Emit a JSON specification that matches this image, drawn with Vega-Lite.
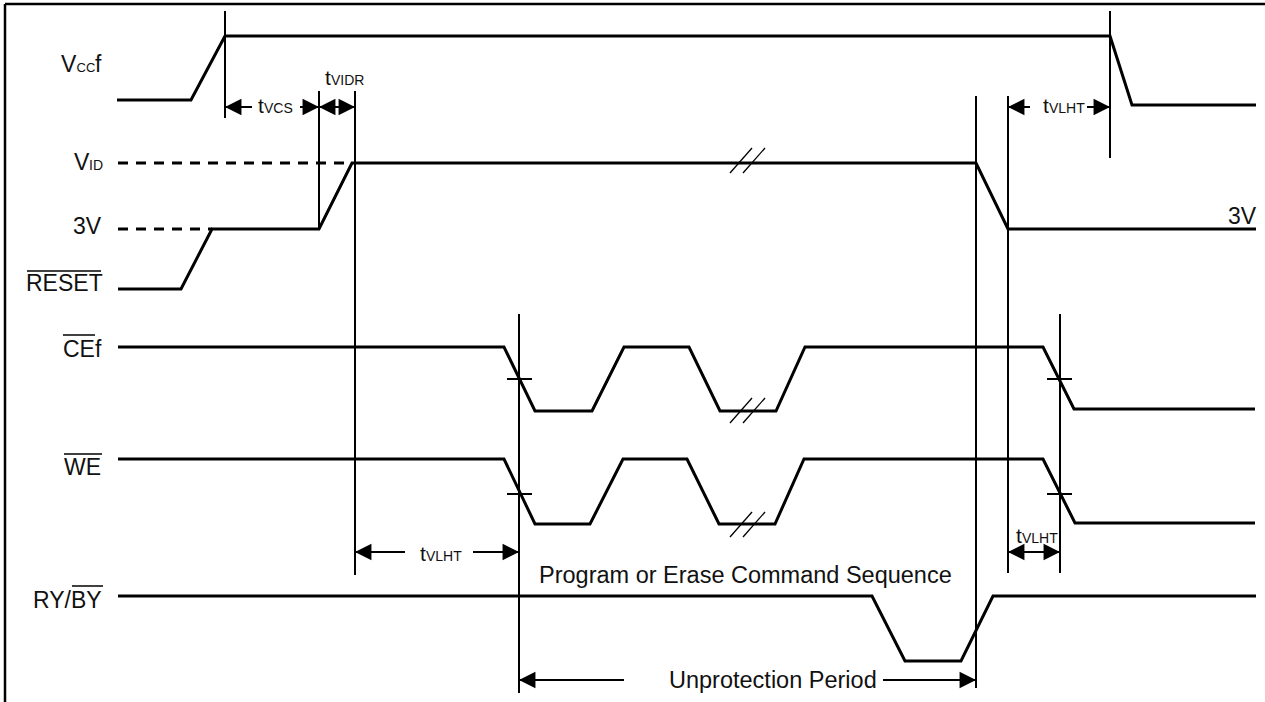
{
  "$schema": "https://vega.github.io/schema/vega-lite/v6.json",
  "width": 1265,
  "height": 702,
  "autosize": "none",
  "padding": 0,
  "background": "white",
  "config": {"view": {"stroke": null}},
  "datasets": {
    "sig": [
      {"s": "VCC", "o": 1, "x": 117, "y": 100}, {"s": "VCC", "o": 2, "x": 191, "y": 100}, {"s": "VCC", "o": 3, "x": 225, "y": 36}, {"s": "VCC", "o": 4, "x": 1110, "y": 36}, {"s": "VCC", "o": 5, "x": 1132, "y": 105}, {"s": "VCC", "o": 6, "x": 1256, "y": 105},
      {"s": "RST", "o": 1, "x": 118, "y": 289}, {"s": "RST", "o": 2, "x": 181, "y": 289}, {"s": "RST", "o": 3, "x": 212, "y": 229}, {"s": "RST", "o": 4, "x": 319, "y": 229}, {"s": "RST", "o": 5, "x": 352, "y": 163}, {"s": "RST", "o": 6, "x": 976, "y": 163}, {"s": "RST", "o": 7, "x": 1008, "y": 229}, {"s": "RST", "o": 8, "x": 1256, "y": 229},
      {"s": "CE", "o": 1, "x": 118, "y": 347}, {"s": "CE", "o": 2, "x": 504, "y": 347}, {"s": "CE", "o": 3, "x": 535, "y": 411}, {"s": "CE", "o": 4, "x": 592, "y": 411}, {"s": "CE", "o": 5, "x": 624, "y": 347}, {"s": "CE", "o": 6, "x": 689, "y": 347}, {"s": "CE", "o": 7, "x": 720, "y": 411}, {"s": "CE", "o": 8, "x": 776, "y": 411}, {"s": "CE", "o": 9, "x": 805, "y": 347}, {"s": "CE", "o": 10, "x": 1043, "y": 347}, {"s": "CE", "o": 11, "x": 1074, "y": 409}, {"s": "CE", "o": 12, "x": 1255, "y": 409},
      {"s": "WE", "o": 1, "x": 118, "y": 459}, {"s": "WE", "o": 2, "x": 504, "y": 459}, {"s": "WE", "o": 3, "x": 535, "y": 524}, {"s": "WE", "o": 4, "x": 590, "y": 524}, {"s": "WE", "o": 5, "x": 623, "y": 459}, {"s": "WE", "o": 6, "x": 687, "y": 459}, {"s": "WE", "o": 7, "x": 719, "y": 524}, {"s": "WE", "o": 8, "x": 775, "y": 524}, {"s": "WE", "o": 9, "x": 804, "y": 459}, {"s": "WE", "o": 10, "x": 1043, "y": 459}, {"s": "WE", "o": 11, "x": 1075, "y": 523}, {"s": "WE", "o": 12, "x": 1255, "y": 523},
      {"s": "RY", "o": 1, "x": 118, "y": 596}, {"s": "RY", "o": 2, "x": 872, "y": 596}, {"s": "RY", "o": 3, "x": 905, "y": 661}, {"s": "RY", "o": 4, "x": 961, "y": 661}, {"s": "RY", "o": 5, "x": 993, "y": 596}, {"s": "RY", "o": 6, "x": 1256, "y": 596}
    ],
    "seg": [
      {"k": "border", "x": 5, "y": 4, "x2": 1265, "y2": 4},
      {"k": "border", "x": 5, "y": 4, "x2": 5, "y2": 702},
      {"k": "dash", "x": 118, "y": 163, "x2": 352, "y2": 163},
      {"k": "dash", "x": 118, "y": 229, "x2": 212, "y2": 229},
      {"k": "ref", "x": 225, "y": 11, "x2": 225, "y2": 118},
      {"k": "ref", "x": 319, "y": 91, "x2": 319, "y2": 229},
      {"k": "ref", "x": 355, "y": 91, "x2": 355, "y2": 575},
      {"k": "ref", "x": 519, "y": 314, "x2": 519, "y2": 693},
      {"k": "ref", "x": 976, "y": 96, "x2": 976, "y2": 688},
      {"k": "ref", "x": 1008, "y": 96, "x2": 1008, "y2": 573},
      {"k": "ref", "x": 1060, "y": 314, "x2": 1060, "y2": 573},
      {"k": "ref", "x": 1110, "y": 11, "x2": 1110, "y2": 158},
      {"k": "ref", "x": 507, "y": 379, "x2": 532, "y2": 379},
      {"k": "ref", "x": 1047, "y": 379, "x2": 1072, "y2": 379},
      {"k": "ref", "x": 507, "y": 494, "x2": 532, "y2": 494},
      {"k": "ref", "x": 1047, "y": 494, "x2": 1072, "y2": 494},
      {"k": "ref", "x": 225, "y": 107, "x2": 252, "y2": 107},
      {"k": "ref", "x": 300, "y": 107, "x2": 319, "y2": 107},
      {"k": "ref", "x": 319, "y": 107, "x2": 355, "y2": 107},
      {"k": "ref", "x": 1008, "y": 107, "x2": 1030, "y2": 107},
      {"k": "ref", "x": 1087, "y": 107, "x2": 1110, "y2": 107},
      {"k": "ref", "x": 355, "y": 552, "x2": 405, "y2": 552},
      {"k": "ref", "x": 473, "y": 552, "x2": 519, "y2": 552},
      {"k": "ref", "x": 1008, "y": 552, "x2": 1060, "y2": 552},
      {"k": "ref", "x": 519, "y": 680, "x2": 624, "y2": 680},
      {"k": "ref", "x": 883, "y": 680, "x2": 976, "y2": 680},
      {"k": "thin", "x": 730, "y": 173, "x2": 752, "y2": 148},
      {"k": "thin", "x": 743, "y": 173, "x2": 765, "y2": 148},
      {"k": "thin", "x": 730, "y": 423, "x2": 752, "y2": 398},
      {"k": "thin", "x": 743, "y": 423, "x2": 765, "y2": 398},
      {"k": "thin", "x": 730, "y": 537, "x2": 752, "y2": 512},
      {"k": "thin", "x": 743, "y": 537, "x2": 765, "y2": 512},
      {"k": "over", "x": 27, "y": 271, "x2": 101, "y2": 271},
      {"k": "over", "x": 63, "y": 335, "x2": 95, "y2": 335},
      {"k": "over", "x": 64, "y": 454, "x2": 102, "y2": 454},
      {"k": "over", "x": 72, "y": 586, "x2": 103, "y2": 586}
    ],
    "arr": [
      {"d": "L", "x": 225, "y": 107}, {"d": "R", "x": 319, "y": 107},
      {"d": "L", "x": 319, "y": 107}, {"d": "R", "x": 355, "y": 107},
      {"d": "L", "x": 1008, "y": 107}, {"d": "R", "x": 1110, "y": 107},
      {"d": "L", "x": 355, "y": 552}, {"d": "R", "x": 519, "y": 552},
      {"d": "L", "x": 1008, "y": 552}, {"d": "R", "x": 1060, "y": 552},
      {"d": "L", "x": 519, "y": 680}, {"d": "R", "x": 976, "y": 680}
    ],
    "txt": [
      {"x": 61, "y": 72, "t": "V", "fs": 23}, {"x": 76.5, "y": 72, "t": "CC", "fs": 13}, {"x": 95, "y": 72, "t": "f", "fs": 23},
      {"x": 325, "y": 85, "t": "t", "fs": 21}, {"x": 331, "y": 85, "t": "VIDR", "fs": 14},
      {"x": 258, "y": 113, "t": "t", "fs": 21}, {"x": 264, "y": 113, "t": "VCS", "fs": 14},
      {"x": 1043, "y": 113, "t": "t", "fs": 21}, {"x": 1049, "y": 113, "t": "VLHT", "fs": 14},
      {"x": 74, "y": 170, "t": "V", "fs": 23}, {"x": 89, "y": 170, "t": "ID", "fs": 14},
      {"x": 73, "y": 234, "t": "3V", "fs": 23},
      {"x": 1228, "y": 224, "t": "3V", "fs": 23},
      {"x": 26, "y": 291, "t": "RESET", "fs": 23},
      {"x": 63, "y": 357, "t": "CEf", "fs": 23},
      {"x": 64, "y": 475, "t": "WE", "fs": 23},
      {"x": 420, "y": 561, "t": "t", "fs": 21}, {"x": 426, "y": 561, "t": "VLHT", "fs": 14},
      {"x": 1016, "y": 543, "t": "t", "fs": 21}, {"x": 1022, "y": 543, "t": "VLHT", "fs": 14},
      {"x": 539, "y": 583, "t": "Program or Erase Command Sequence", "fs": 23.5},
      {"x": 33, "y": 608, "t": "RY/BY", "fs": 23},
      {"x": 669, "y": 688, "t": "Unprotection Period", "fs": 23.5}
    ]
  },
  "encoding": {
    "x": {"field": "x", "type": "quantitative", "scale": {"domain": [0, 1265], "nice": false, "zero": false}, "axis": null},
    "y": {"field": "y", "type": "quantitative", "scale": {"domain": [0, 702], "reverse": true, "nice": false, "zero": false}, "axis": null}
  },
  "layer": [
    {
      "data": {"name": "sig"},
      "mark": {"type": "line", "color": "black", "strokeWidth": 3, "strokeJoin": "miter"},
      "encoding": {"detail": {"field": "s"}, "order": {"field": "o", "type": "quantitative"}}
    },
    {
      "data": {"name": "seg"},
      "transform": [{"filter": "datum.k == 'border'"}],
      "mark": {"type": "rule", "color": "black", "strokeWidth": 2.5},
      "encoding": {"x2": {"field": "x2"}, "y2": {"field": "y2"}}
    },
    {
      "data": {"name": "seg"},
      "transform": [{"filter": "datum.k == 'dash'"}],
      "mark": {"type": "rule", "color": "black", "strokeWidth": 3, "strokeDash": [10, 8]},
      "encoding": {"x2": {"field": "x2"}, "y2": {"field": "y2"}}
    },
    {
      "data": {"name": "seg"},
      "transform": [{"filter": "datum.k == 'ref'"}],
      "mark": {"type": "rule", "color": "black", "strokeWidth": 2},
      "encoding": {"x2": {"field": "x2"}, "y2": {"field": "y2"}}
    },
    {
      "data": {"name": "seg"},
      "transform": [{"filter": "datum.k == 'thin'"}],
      "mark": {"type": "rule", "color": "black", "strokeWidth": 1.3},
      "encoding": {"x2": {"field": "x2"}, "y2": {"field": "y2"}}
    },
    {
      "data": {"name": "seg"},
      "transform": [{"filter": "datum.k == 'over'"}],
      "mark": {"type": "rule", "color": "black", "strokeWidth": 1.5},
      "encoding": {"x2": {"field": "x2"}, "y2": {"field": "y2"}}
    },
    {
      "data": {"name": "arr"},
      "transform": [{"filter": "datum.d == 'L'"}],
      "mark": {"type": "point", "filled": true, "color": "black", "opacity": 1, "strokeWidth": 0, "size": 270, "shape": "M0,0L2,-1L2,1Z"}
    },
    {
      "data": {"name": "arr"},
      "transform": [{"filter": "datum.d == 'R'"}],
      "mark": {"type": "point", "filled": true, "color": "black", "opacity": 1, "strokeWidth": 0, "size": 270, "shape": "M0,0L-2,-1L-2,1Z"}
    },
    {
      "data": {"name": "txt"},
      "mark": {"type": "text", "align": "left", "baseline": "alphabetic", "font": "Liberation Sans", "color": "#111"},
      "encoding": {"text": {"field": "t"}, "size": {"field": "fs", "type": "quantitative", "scale": null}}
    }
  ]
}
